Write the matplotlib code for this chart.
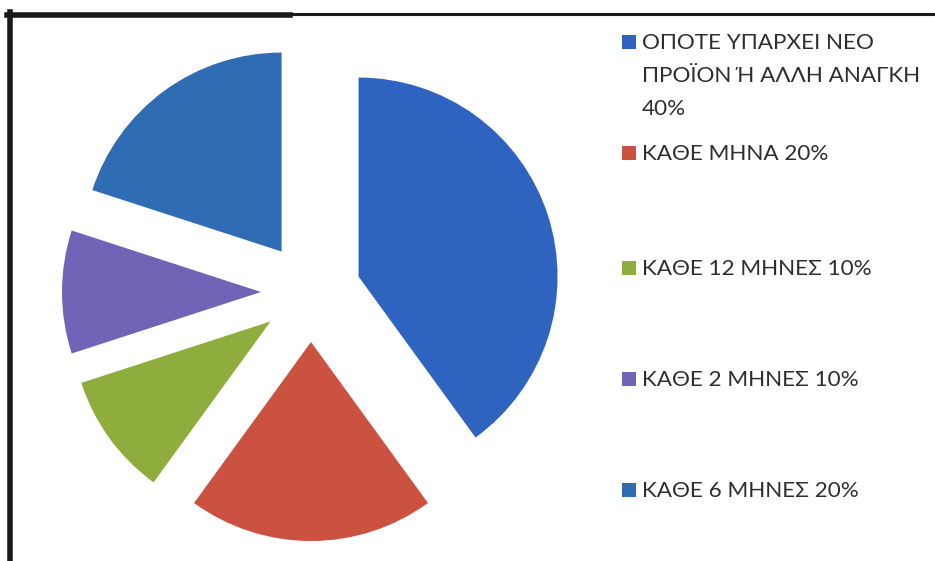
import matplotlib.pyplot as plt
from matplotlib.patches import Rectangle
from matplotlib.lines import Line2D

# Συχνότητα - ποσοστά απαντήσεων
labels = ["ΟΠΟΤΕ ΥΠΑΡΧΕΙ ΝΕΟ\nΠΡΟΪΟΝ Ή ΑΛΛΗ ΑΝΑΓΚΗ\n40%",
          "ΚΑΘΕ ΜΗΝΑ 20%",
          "ΚΑΘΕ 12 ΜΗΝΕΣ 10%",
          "ΚΑΘΕ 2 ΜΗΝΕΣ 10%",
          "ΚΑΘΕ 6 ΜΗΝΕΣ 20%"]
values = [40, 20, 10, 10, 20]
colors = ["#2f63c0", "#cb5140", "#8fad3c", "#7064b6", "#2f6cb3"]

W, H = 935, 561
fig = plt.figure(figsize=(W / 100, H / 100), dpi=100)
fig.patch.set_facecolor("white")
ax = fig.add_axes([0, 0, 1, 1])

wedges, _ = ax.pie(values, colors=colors, startangle=90, counterclock=False,
                   radius=199, center=(311, H - 292), explode=[50] * len(values),
                   wedgeprops=dict(linewidth=0))
ax.set_xlim(0, W)
ax.set_ylim(0, H)
ax.set_aspect("auto")
ax.axis("off")

# υπόμνημα
leg_y = [42, 153, 268, 379, 490]
for w, lab, y in zip(wedges, labels, leg_y):
    ax.add_patch(Rectangle((622, H - y - 7), 14, 14, color=w.get_facecolor(), lw=0))
    ax.text(642, H - y + 9, lab, fontsize=16.2, family="Lato", color="#2e2e2e",
            va="top", ha="left", linespacing=1.8)

# πλαίσιο
fig.add_artist(Line2D([9.5 / W, 9.5 / W], [0, 1 - 12 / H], color="#1a1a1a", lw=4,
                      transform=fig.transFigure))
fig.add_artist(Line2D([7 / W, 290 / W], [1 - 14.5 / H] * 2, color="#1a1a1a", lw=4,
                      transform=fig.transFigure))
fig.add_artist(Line2D([290 / W, 1], [1 - 14 / H] * 2, color="#1a1a1a", lw=2.2,
                      transform=fig.transFigure))

fig.savefig("out.png", dpi=100)
